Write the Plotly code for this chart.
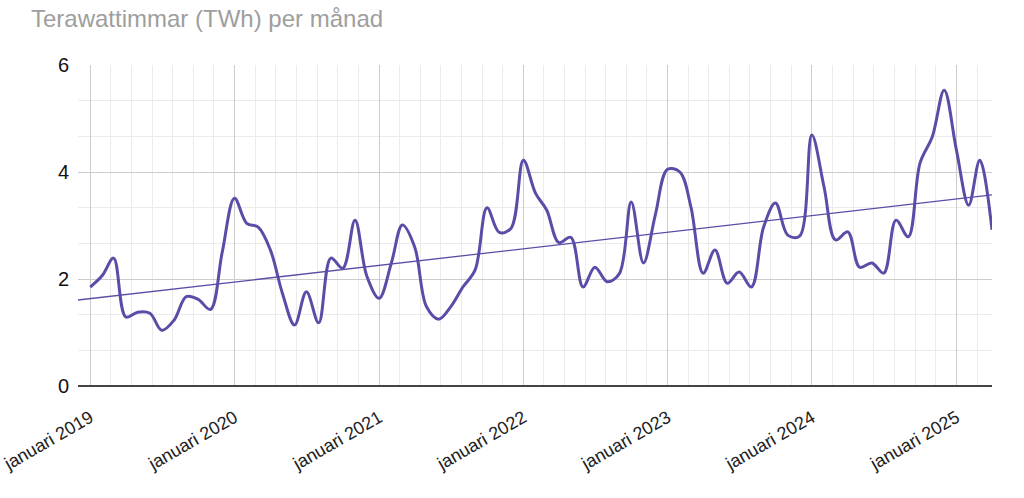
import numpy as np
import pandas as pd
import plotly.graph_objects as go

# ---- data ----
months = pd.date_range("2019-01-01", "2025-04-01", freq="MS")
values = [
    1.85, 2.07, 2.39, 1.29, 1.38, 1.36, 1.04, 1.23, 1.67, 1.62, 1.43, 2.50,   # 2019
    3.51, 3.04, 2.97, 2.54, 1.74, 1.14, 1.76, 1.18, 2.39, 2.20, 3.10, 2.05,   # 2020
    1.64, 2.30, 3.01, 2.60, 1.48, 1.25, 1.48, 1.85, 2.17, 3.33, 2.87, 2.95,   # 2021
    4.22, 3.60, 3.29, 2.68, 2.78, 1.85, 2.22, 1.95, 2.10, 3.44, 2.30, 3.20,   # 2022
    4.05, 4.00, 3.35, 2.11, 2.54, 1.92, 2.13, 1.85, 2.97, 3.42, 2.82, 2.80,   # 2023
    4.69, 3.72, 2.73, 2.88, 2.22, 2.30, 2.11, 3.10, 2.79, 4.17, 4.66, 5.53,   # 2024
    4.41, 3.38, 4.22, 2.92,                                                   # 2025
]
tick_years = [2019, 2020, 2021, 2022, 2023, 2024, 2025]
tick_labels = ["januari %d" % y for y in tick_years]
y_ticks = [0, 2, 4, 6]
title_text = "Terawattimmar (TWh) per månad"

# ---- axis range / trend ----
x_start = pd.Timestamp("2018-12-01")
x_end = months[-1]
t = np.array([(m - months[0]).days for m in months], dtype=float)
slope, intercept = np.polyfit(t, np.array(values), 1)
trend_x = [x_start, x_end]
trend_t = np.array([(d - months[0]).days for d in trend_x], dtype=float)
trend_y = slope * trend_t + intercept

# minor vertical gridlines: 6 per year (7 equal divisions)
minor_x = []
for y in tick_years:
    a = pd.Timestamp(f"{y}-01-01")
    b = pd.Timestamp(f"{y+1}-01-01")
    for k in range(1, 7):
        d = a + (b - a) * k / 7
        if d <= x_end:
            minor_x.append(d)

color = "#5a4da7"
fig = go.Figure()
fig.add_trace(go.Scatter(
    x=months, y=values, mode="lines",
    line=dict(color=color, width=3, shape="spline", smoothing=1.0),
    hoverinfo="x+y", showlegend=False,
))
fig.add_trace(go.Scatter(
    x=trend_x, y=trend_y, mode="lines",
    line=dict(color=color, width=1.3),
    hoverinfo="skip", showlegend=False,
))

fig.update_layout(
    width=1024, height=498,
    margin=dict(l=78, r=32, t=65, b=112),
    paper_bgcolor="white", plot_bgcolor="white",
    font=dict(family="Liberation Sans, Arial, sans-serif", color="#222222"),
    title=dict(
        text=title_text, font=dict(size=24, color="#9e9e9e"),
        x=31 / 1024, xref="container", xanchor="left",
        y=1 - 19 / 498, yref="container", yanchor="middle",
    ),
    xaxis=dict(
        type="date", range=[x_start, x_end], automargin=False,
        tickmode="array",
        tickvals=[pd.Timestamp(f"{y}-01-01") for y in tick_years],
        ticktext=tick_labels, tickangle=-30, ticklabeloverflow="allow",
        tickfont=dict(size=18, color="#222222"),
        showgrid=True, gridcolor="#cccccc", gridwidth=1,
        minor=dict(tickmode="array", tickvals=minor_x, showgrid=True,
                   gridcolor="#ebebeb", gridwidth=1),
        zeroline=False, showline=False, ticks="", ticklabelstandoff=17,
    ),
    yaxis=dict(
        range=[0, 6], tickmode="array", tickvals=y_ticks, automargin=False,
        tickfont=dict(size=20, color="#111111"),
        showgrid=True, gridcolor="#cccccc", gridwidth=1,
        minor=dict(dtick=2 / 3, tick0=0, showgrid=True,
                   gridcolor="#ebebeb", gridwidth=1),
        zeroline=True, zerolinecolor="#444444", zerolinewidth=2,
        showline=False, ticks="", ticklabelstandoff=8,
    ),
)

fig.write_html(
    "out.html",
    config={"displayModeBar": False},
    post_script="document.body.style.margin='0';document.body.style.padding='0';",
)
